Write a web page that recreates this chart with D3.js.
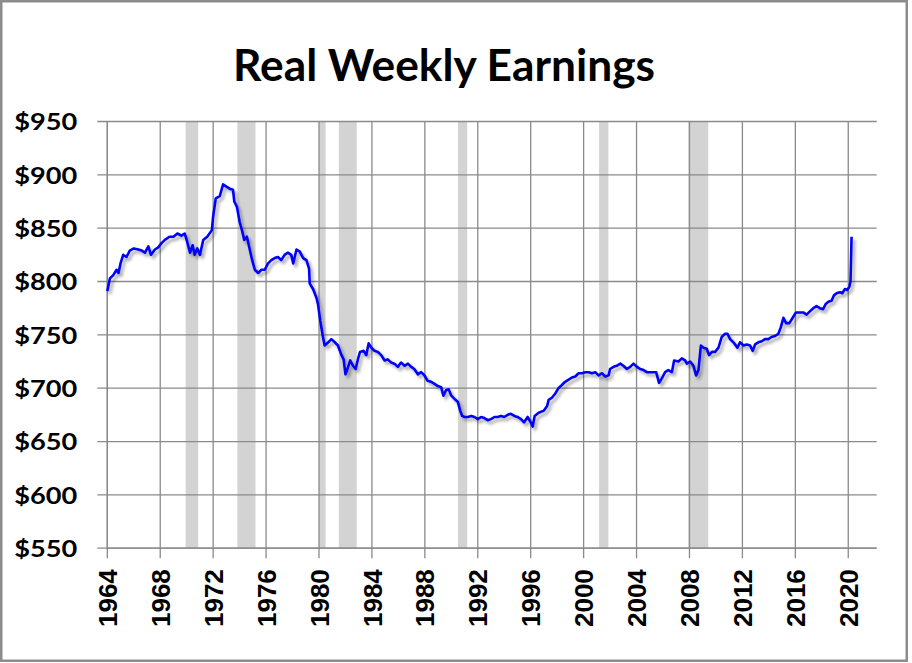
<!DOCTYPE html>
<html>
<head>
<meta charset="utf-8">
<script src="https://cdn.jsdelivr.net/npm/d3@7"></script>
<style>
  html, body { margin: 0; padding: 0; background: #fff; }
  svg { display: block; }
</style>
</head>
<body>
<svg id="chart" width="912" height="663"></svg>
<script>
// ---- Data ----
const chartTitle = "Real Weekly Earnings";
const yTickValues = [550, 600, 650, 700, 750, 800, 850, 900, 950];
const xTickYears = [1964, 1968, 1972, 1976, 1980, 1984, 1988, 1992, 1996, 2000, 2004, 2008, 2012, 2016, 2020];
const recessionStart = [1969.92, 1973.83, 1980.0, 1981.5, 1990.5, 2001.17, 2007.92];
const recessionEnd   = [1970.87, 1975.2, 1980.5, 1982.85, 1991.2, 2001.87, 2009.42];

const dates = [
  1964.0,1964.2,1964.45,1964.7,1964.85,1965.0,1965.2,1965.45,1965.7,1966.0,
  1966.35,1966.6,1966.85,1967.1,1967.3,1967.6,1967.85,1968.1,1968.35,1968.7,
  1969.0,1969.3,1969.6,1969.85,1970.0,1970.25,1970.45,1970.6,1970.8,1971.0,
  1971.25,1971.55,1971.9,1972.0,1972.2,1972.5,1972.75,1973.0,1973.25,1973.5,
  1973.6,1973.8,1974.0,1974.2,1974.35,1974.55,1974.75,1974.95,1975.15,1975.4,
  1975.65,1975.9,1976.15,1976.4,1976.65,1976.9,1977.15,1977.4,1977.65,1977.9,
  1978.05,1978.3,1978.55,1978.8,1979.05,1979.25,1979.3,1979.55,1979.8,1979.92,
  1980.1,1980.3,1980.43,1980.7,1980.93,1981.2,1981.43,1981.7,1981.86,1982.0,
  1982.2,1982.36,1982.57,1982.77,1982.94,1983.1,1983.37,1983.57,1983.75,1983.95,
  1984.2,1984.45,1984.7,1984.96,1985.2,1985.46,1985.7,1985.96,1986.2,1986.47,
  1986.72,1986.97,1987.2,1987.47,1987.72,1987.97,1988.2,1988.48,1988.73,1988.98,
  1989.23,1989.4,1989.6,1989.8,1990.0,1990.24,1990.5,1990.67,1990.82,1991.0,
  1991.25,1991.5,1991.75,1992.0,1992.25,1992.5,1992.75,1993.0,1993.26,1993.5,
  1993.76,1994.0,1994.26,1994.5,1994.77,1995.0,1995.27,1995.5,1995.77,1996.05,
  1996.15,1996.3,1996.6,1997.0,1997.23,1997.36,1997.6,1997.86,1998.1,1998.36,
  1998.6,1998.87,1999.12,1999.37,1999.62,1999.87,2000.13,2000.38,2000.63,2000.88,
  2001.13,2001.38,2001.64,2001.89,2002.0,2002.26,2002.5,2002.77,2003.0,2003.27,
  2003.52,2003.77,2004.03,2004.28,2004.53,2004.78,2005.03,2005.28,2005.48,2005.7,
  2005.9,2006.16,2006.4,2006.67,2006.84,2007.17,2007.42,2007.67,2007.8,2008.05,
  2008.3,2008.5,2008.68,2008.86,2009.06,2009.3,2009.48,2009.7,2009.94,2010.19,
  2010.44,2010.69,2010.87,2011.07,2011.32,2011.62,2011.82,2012.08,2012.33,2012.58,
  2012.78,2012.96,2013.2,2013.46,2013.7,2013.96,2014.2,2014.47,2014.72,2014.9,
  2015.1,2015.3,2015.55,2015.8,2016.05,2016.35,2016.6,2016.85,2017.1,2017.36,
  2017.6,2017.86,2018.1,2018.3,2018.5,2018.74,2018.92,2019.12,2019.37,2019.55,
  2019.75,2019.92,2020.08,2020.17,2020.25
];
const earnings = [
  791,803,806,811,808,817,825,823,829,831,
  830,829,827,833,825,830,832,836,839,842,
  842,845,843,845,839,827,834,825,831,825,
  839,842,848,861,878,880,891,889,887,886,
  875,870,856,847,839,842,831,820,811,808,
  811,811,817,820,822,823,820,825,827,825,
  817,830,828,822,820,812,798,793,785,779,
  763,748,740,743,746,743,740,731,727,713,
  720,726,721,718,727,734,735,731,742,738,
  735,734,731,726,727,724,723,720,724,721,
  723,720,718,713,715,712,707,706,704,702,
  701,693,698,699,693,690,687,679,674,673,
  673,674,673,671,673,672,670,671,673,673,
  674,673,675,676,674,673,671,668,673,667,
  664,674,677,679,683,689,691,695,700,703,
  706,708,710,711,714,714,715,715,714,715,
  712,714,711,712,718,720,721,723,721,718,
  720,723,720,718,717,715,715,715,715,705,
  709,715,717,715,726,725,728,726,723,725,
  721,712,717,740,738,737,731,734,734,738,
  748,751,751,746,743,738,743,740,741,740,
  735,741,743,744,746,746,748,749,751,757,
  766,761,761,766,771,771,771,769,772,775,
  777,775,774,779,781,782,787,789,790,789,
  793,792,795,800,842
];

// ---- Layout ----
const svg = d3.select("#chart");
const W = 912, H = 663;
const plot = { left: 107.3, right: 876.7, top: 121.5, bottom: 548.2 };
const gridColor = "#8a8a8a";

const x = d3.scaleLinear().domain([1964, 2022.15]).range([plot.left, plot.right]);
const y = d3.scaleLinear().domain([550, 950]).range([plot.bottom, plot.top]);

// frame
svg.append("rect")
  .attr("x", 1.25).attr("y", 1.25).attr("width", 905.5).attr("height", 659.5)
  .attr("fill", "#fff").attr("stroke", "#8c8c8c").attr("stroke-width", 2.5);

// shadow filter for the line
const defs = svg.append("defs");
const f = defs.append("filter").attr("id", "shadow")
  .attr("x", "-5%").attr("y", "-5%").attr("width", "110%").attr("height", "115%");
f.append("feDropShadow").attr("dx", 2.5).attr("dy", 3).attr("stdDeviation", 1.8)
  .attr("flood-color", "#000").attr("flood-opacity", 0.35);

// title
svg.append("text")
  .attr("x", 444).attr("y", 81)
  .attr("text-anchor", "middle")
  .attr("font-family", "Lato, 'Open Sans', sans-serif")
  .attr("font-weight", "bold")
  .attr("font-size", 43)
  .attr("textLength", 422).attr("lengthAdjust", "spacingAndGlyphs")
  .attr("fill", "#000")
  .text(chartTitle);

// recession bands
svg.append("g").selectAll("rect")
  .data(recessionStart.map((s, i) => [s, recessionEnd[i]]))
  .join("rect")
  .attr("x", d => x(d[0]))
  .attr("width", d => x(d[1]) - x(d[0]))
  .attr("y", plot.top)
  .attr("height", plot.bottom - plot.top)
  .attr("fill", "#d3d3d3");

// gridlines
const grid = svg.append("g").attr("stroke", gridColor).attr("stroke-width", 1.3);
grid.selectAll("line.h").data(yTickValues).join("line").attr("class", "h")
  .attr("x1", plot.left - 10).attr("x2", plot.right)
  .attr("y1", d => y(d)).attr("y2", d => y(d));
grid.selectAll("line.v").data(xTickYears).join("line").attr("class", "v")
  .attr("x1", d => x(d)).attr("x2", d => x(d))
  .attr("y1", plot.top).attr("y2", plot.bottom + 10);

// y axis labels
const yAxis = d3.axisLeft(y).tickValues(yTickValues).tickSize(0).tickPadding(0)
  .tickFormat(d => "$" + d);
const gy = svg.append("g").attr("transform", `translate(${plot.left - 30},0)`).call(yAxis);
gy.select(".domain").remove();
gy.selectAll("text")
  .attr("font-family", "Lato, 'Open Sans', sans-serif")
  .attr("font-weight", "bold")
  .attr("font-size", 23)
  .attr("fill", "#000")
  .attr("textLength", 63).attr("lengthAdjust", "spacingAndGlyphs")
  .attr("dy", "0.36em");

// x axis labels
const xAxis = d3.axisBottom(x).tickValues(xTickYears).tickSize(0).tickFormat(d3.format("d"));
const gx = svg.append("g").attr("transform", `translate(0,${plot.bottom})`).call(xAxis);
gx.select(".domain").remove();
gx.selectAll("text")
  .attr("font-family", "'Liberation Sans', Arial, sans-serif")
  .attr("font-weight", "bold")
  .attr("font-size", 26)
  .attr("fill", "#000")
  .attr("text-anchor", "end")
  .attr("x", 0).attr("y", 0)
  .attr("dy", "0.35em")
  .attr("transform", "translate(0,21) rotate(-90)");

// axis lines
svg.append("line").attr("x1", plot.left).attr("x2", plot.left)
  .attr("y1", plot.top).attr("y2", plot.bottom)
  .attr("stroke", gridColor).attr("stroke-width", 1.3);
svg.append("line").attr("x1", plot.left).attr("x2", plot.right)
  .attr("y1", plot.bottom).attr("y2", plot.bottom)
  .attr("stroke", gridColor).attr("stroke-width", 1.3);

// line
const data = dates.map((d, i) => ({ t: d, v: earnings[i] }));
svg.append("path")
  .datum(data)
  .attr("fill", "none")
  .attr("stroke", "#0000ff")
  .attr("stroke-width", 2.6)
  .attr("stroke-linejoin", "round")
  .attr("filter", "url(#shadow)")
  .attr("d", d3.line().x(d => x(d.t)).y(d => y(d.v)));
</script>
</body>
</html>
